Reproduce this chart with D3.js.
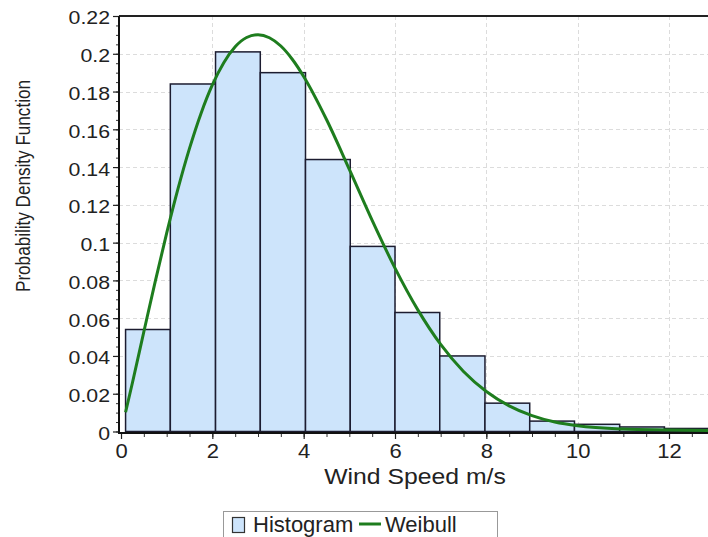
<!DOCTYPE html>
<html>
<head>
<meta charset="utf-8">
<script src="https://cdn.jsdelivr.net/npm/d3@7"></script>
<style>
  html, body { margin: 0; padding: 0; background: #fff; }
  svg { display: block; font-family: "Liberation Sans", Arial, sans-serif; }
</style>
</head>
<body>
<svg id="chart" width="708" height="537"></svg>
<script>
// ---- data ----
const binEdges = [0.1, 1.08, 2.07, 3.05, 4.04, 5.02, 6.0, 6.98, 7.97, 8.95, 9.93, 10.92, 11.9, 12.88];
const binValues = [0.054, 0.184, 0.201, 0.190, 0.144, 0.098, 0.063, 0.040, 0.015, 0.0055, 0.0038, 0.0024, 0.0016];
const curveX = [0.1, 0.25, 0.5, 0.75, 1, 1.25, 1.5, 1.75, 2, 2.25, 2.5, 2.75, 3, 3.25, 3.5, 3.75, 4, 4.5, 5, 5.5, 6, 6.5, 7, 7.5, 8, 8.5, 9, 9.5, 10, 11, 12, 13];
const curveY = [0.0102, 0.0258, 0.0528, 0.0795, 0.1050, 0.1287, 0.1499, 0.1683, 0.1835, 0.1953, 0.2037, 0.2086, 0.2101, 0.2085, 0.2041, 0.1971, 0.1880, 0.1652, 0.1388, 0.1118, 0.0865, 0.0644, 0.0461, 0.0318, 0.0212, 0.0136, 0.0084, 0.0050, 0.0030, 0.0013, 0.0008, 0.0005];
const xTicks = [0, 2, 4, 6, 8, 10, 12];
const yTicks = [0, 0.02, 0.04, 0.06, 0.08, 0.1, 0.12, 0.14, 0.16, 0.18, 0.2, 0.22];
const yTickLabels = ["0", "0.02", "0.04", "0.06", "0.08", "0.1", "0.12", "0.14", "0.16", "0.18", "0.2", "0.22"];
const xTitle = "Wind Speed m/s";
const yTitle = "Probability Density Function";
const legendLabels = ["Histogram", "Weibull"];

// ---- layout ----
const svg = d3.select("#chart");
const L = 119, R = 708, T = 16, B = 433;
const x = d3.scaleLinear().domain([-0.044, 12.854]).range([L, R]);
const y = d3.scaleLinear().domain([-0.0008, 0.22]).range([B, T]);

const barFill = "#cde4fb", barStroke = "#1c1c30", green = "#1e7d1e";

function stretch(sel, k) {
  sel.each(function () {
    const len = this.getComputedTextLength();
    d3.select(this).attr("textLength", len * k).attr("lengthAdjust", "spacingAndGlyphs");
  });
}

svg.append("defs").append("clipPath").attr("id", "clip")
  .append("rect").attr("x", L).attr("y", T).attr("width", R - L).attr("height", B - T);

// gridlines
const grid = svg.append("g").attr("stroke", "#dcdcdc").attr("stroke-width", 1).attr("stroke-dasharray", "4,3");
grid.selectAll("line.h").data(yTicks.filter(d => d > 0 && d < 0.22)).join("line")
  .attr("x1", L).attr("x2", R).attr("y1", d => Math.round(y(d)) + 0.5).attr("y2", d => Math.round(y(d)) + 0.5);
grid.selectAll("line.v").data(xTicks.filter(d => d > 0)).join("line")
  .attr("x1", d => Math.round(x(d)) + 0.5).attr("x2", d => Math.round(x(d)) + 0.5).attr("y1", T).attr("y2", B);

// bars
const plot = svg.append("g").attr("clip-path", "url(#clip)");
plot.selectAll("rect.bar").data(binValues).join("rect")
  .attr("class", "bar")
  .attr("x", (d, i) => x(binEdges[i]))
  .attr("width", (d, i) => x(binEdges[i + 1]) - x(binEdges[i]))
  .attr("y", d => y(d))
  .attr("height", d => y(0) - y(d))
  .attr("fill", barFill).attr("stroke", barStroke).attr("stroke-width", 1.5);

// Weibull curve
const pts = curveX.map((d, i) => [d, curveY[i]]);
plot.append("path").datum(pts)
  .attr("fill", "none").attr("stroke", green).attr("stroke-width", 3)
  .attr("d", d3.line().x(d => x(d[0])).y(d => y(d[1])).curve(d3.curveMonotoneX));

// axes: minor ticks
svg.append("g").attr("transform", `translate(0,${B})`)
  .call(d3.axisBottom(x).tickValues(d3.range(0, 13, 0.5)).tickSize(4).tickFormat(""))
  .call(g => g.select(".domain").remove())
  .selectAll("line").attr("stroke", "#333");
svg.append("g").attr("transform", `translate(${L},0)`)
  .call(d3.axisLeft(y).tickValues(d3.range(0, 0.2201, 0.005)).tickSize(3).tickFormat(""))
  .call(g => g.select(".domain").remove())
  .selectAll("line").attr("stroke", "#333");

// major axes
const xa = svg.append("g").attr("transform", `translate(0,${B})`)
  .call(d3.axisBottom(x).tickValues(xTicks).tickSize(6).tickPadding(5).tickFormat(d3.format("d")));
xa.select(".domain").remove();
xa.selectAll("line").attr("stroke", "#222").attr("stroke-width", 1.2);
xa.selectAll("text").attr("font-size", 20).attr("fill", "#222").attr("font-family", "Liberation Sans, Arial, sans-serif").call(stretch, 1.1);

const ya = svg.append("g").attr("transform", `translate(${L},0)`)
  .call(d3.axisLeft(y).tickValues(yTicks).tickSize(6).tickPadding(3).tickFormat((d, i) => yTickLabels[i]));
ya.select(".domain").remove();
ya.selectAll("line").attr("stroke", "#222").attr("stroke-width", 1.2);
ya.selectAll("text").attr("font-size", 19).attr("fill", "#222").attr("dy", "0.42em").attr("font-family", "Liberation Sans, Arial, sans-serif").call(stretch, 1.12);

// frame lines
svg.append("line").attr("x1", L).attr("x2", R).attr("y1", T).attr("y2", T).attr("stroke", "#222").attr("stroke-width", 2);
svg.append("line").attr("x1", L).attr("x2", L).attr("y1", T).attr("y2", B + 1).attr("stroke", "#111").attr("stroke-width", 2);
svg.append("line").attr("x1", L - 1).attr("x2", R).attr("y1", B).attr("y2", B).attr("stroke", "#111").attr("stroke-width", 2);

// titles
svg.append("text").attr("x", 415).attr("y", 484).attr("text-anchor", "middle")
  .attr("font-size", 22.5).attr("fill", "#222").text(xTitle).call(stretch, 1.1);
svg.append("text").attr("transform", "translate(30,186) rotate(-90)").attr("text-anchor", "middle")
  .attr("font-size", 20).attr("fill", "#222")
  .attr("textLength", 212).attr("lengthAdjust", "spacingAndGlyphs").text(yTitle);

// legend
const lg = svg.append("g");
lg.append("rect").attr("x", 223.5).attr("y", 511.5).attr("width", 274).attr("height", 40)
  .attr("fill", "#fff").attr("stroke", "#999").attr("stroke-width", 1);
lg.append("rect").attr("x", 232.5).attr("y", 517.5).attr("width", 12).attr("height", 15)
  .attr("fill", barFill).attr("stroke", "#333").attr("stroke-width", 1.2);
lg.append("text").attr("x", 253).attr("y", 532).attr("font-size", 22).attr("fill", "#222").text(legendLabels[0]);
lg.append("line").attr("x1", 359).attr("x2", 381).attr("y1", 524).attr("y2", 524).attr("stroke", green).attr("stroke-width", 3);
lg.append("text").attr("x", 385).attr("y", 532).attr("font-size", 22).attr("fill", "#222").text(legendLabels[1]);
</script>
</body>
</html>
